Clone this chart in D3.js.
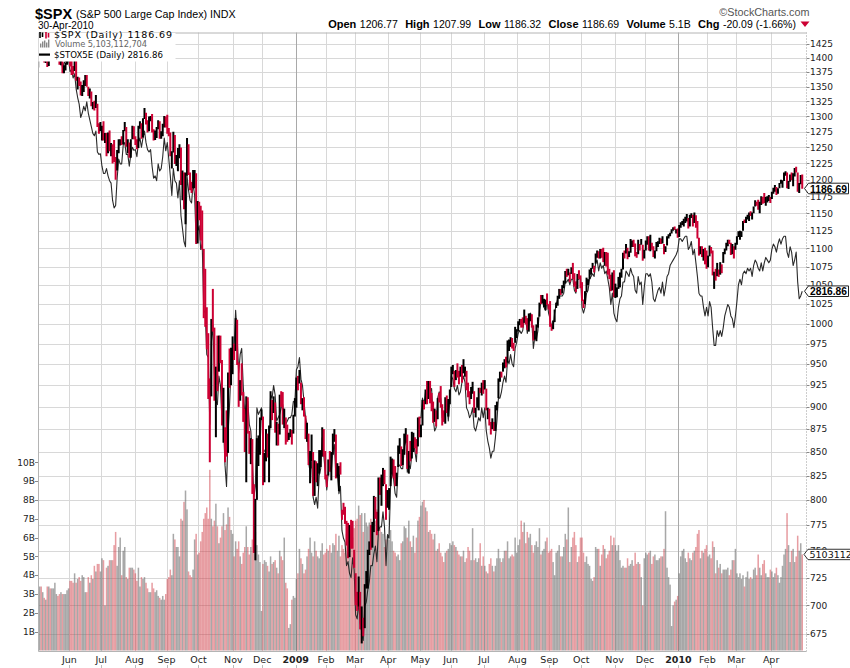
<!DOCTYPE html>
<html>
<head>
<meta charset="utf-8">
<script src="https://cdn.jsdelivr.net/npm/d3@7"></script>
<style>
body{margin:0;background:#fff;}
svg{display:block;font-family:"Liberation Sans",Arial,sans-serif;}
</style>
</head>
<body>
<svg id="chart" width="850" height="668"></svg>
<script>
// one line per month, May 2008 .. Apr 2010
const spxHigh = [
 1410,1422,1415,1421,1419,1404,1398,1404,1410,1420,1424,1427,1440,1426,1414,1406,1394,1387,1392,1406,1406,
 1401,1396,1386,1405,1404,1367,1366,1359,1353,1361,1370,1370,1350,1347,1342,1324,1326,1336,1321,1289,1291,
 1285,1292,1273,1273,1274,1277,1257,1255,1262,1235,1246,1263,1263,1268,1278,1291,1283,1263,1258,1263,1285,1284,
 1268,1263,1285,1292,1289,1297,1314,1306,1294,1300,1301,1304,1279,1277,1283,1294,1292,1276,1288,1301,1300,
 1303,1281,1274,1244,1275,1270,1238,1249,1255,1250,1214,1211,1211,1265,1255,1211,1197,1215,1215,1210,1168,
 1167,1161,1154,1099,1072,1021,988,933,1006,1045,995,947,985,985,985,955,922,877,896,940,969,970,984,
 975,1007,1005,952,931,951,917,898,912,911,873,865,864,816,801,865,868,888,897,
 889,849,875,870,879,918,908,912,905,883,881,914,918,917,898,888,880,871,875,874,891,910,
 934,936,943,928,910,911,890,882,870,851,869,850,841,840,838,852,852,877,875,851,
 826,842,851,850,870,875,869,838,835,839,790,797,793,779,777,775,780,779,751,
 729,712,726,712,699,689,719,731,751,759,775,778,804,803,788,823,823,826,833,831,816,810,
 812,845,843,842,835,828,857,865,856,853,870,876,869,851,862,872,871,866,864,888,889,
 880,908,907,920,930,930,930,916,906,898,896,910,916,924,903,896,911,913,909,920,
 947,949,942,943,951,942,947,949,956,947,942,928,918,923,929,918,899,911,922,922,928,931,
 931,921,899,898,883,887,883,902,906,933,941,941,952,956,959,979,980,983,982,976,996,993,
 1003,1006,1006,1008,1018,1010,1007,1013,1013,1012,998,991,999,1008,1027,1037,1037,1032,1031,1039,1025,
 1029,1000,1004,1018,1027,1036,1045,1045,1050,1056,1069,1072,1072,1067,1074,1080,1066,1055,1065,1070,1063,
 1054,1031,1042,1060,1058,1071,1073,1080,1076,1093,1097,1096,1099,1099,1101,1095,1095,1094,1072,1064,1067,1070,
 1052,1047,1061,1067,1072,1094,1097,1106,1101,1096,1113,1111,1112,1107,1095,1112,1106,1113,1105,1098,
 1111,1117,1117,1119,1108,1103,1097,1109,1110,1115,1114,1117,1106,1103,1117,1120,1122,1127,1130,1131,1127,1128,
 1133,1137,1139,1142,1145,1149,1143,1148,1150,1148,1151,1147,1139,1115,1103,1103,1099,1101,1097,
 1090,1104,1102,1097,1068,1072,1080,1071,1081,1078,1095,1100,1108,1112,1112,1108,1106,1103,1108,
 1117,1124,1125,1124,1139,1141,1145,1148,1151,1153,1151,1160,1169,1167,1170,1167,1175,1174,1180,1174,1175,1177,1174,
 1182,1188,1192,1189,1187,1195,1200,1199,1211,1213,1211,1198,1208,1211,1210,1218,1220,1211,1195,1207,1207.99
];
const spxLow = [
 1383,1406,1404,1397,1392,1391,1384,1386,1396,1402,1405,1414,1419,1409,1388,1387,1373,1373,1378,1388,1396,
 1385,1370,1371,1377,1360,1345,1351,1335,1334,1341,1351,1350,1334,1330,1317,1312,1310,1314,1283,1272,1276,
 1261,1261,1257,1236,1241,1244,1236,1225,1227,1200,1214,1241,1253,1254,1255,1276,1251,1241,1234,1234,1263,1263,
 1254,1247,1249,1280,1264,1266,1296,1287,1274,1276,1292,1274,1261,1262,1265,1279,1264,1264,1268,1282,1282,
 1272,1268,1236,1217,1242,1224,1221,1213,1233,1192,1169,1156,1134,1206,1207,1184,1180,1187,1187,1106,1107,
 1140,1111,1098,1007,996,968,909,839,912,990,907,866,918,941,951,879,860,839,845,849,922,925,938,
 955,966,949,900,907,913,883,850,818,870,848,837,806,748,741,800,835,847,885,
 815,818,840,844,818,876,885,893,871,857,857,869,900,880,876,858,861,863,866,858,870,889,
 899,919,927,903,896,889,864,861,836,817,840,804,804,818,814,827,834,845,845,821,
 813,825,829,820,847,861,822,823,809,826,780,785,776,755,743,744,752,752,734,
 700,695,699,679,667,673,680,715,715,746,751,753,768,781,765,769,805,794,814,816,780,792,
 790,814,826,822,814,814,834,848,835,836,847,860,832,827,840,843,850,854,848,856,866,
 866,879,897,903,903,909,904,895,882,883,878,886,905,899,879,883,881,893,889,903,
 923,938,923,931,934,926,935,928,939,935,919,911,903,909,915,893,888,899,896,916,913,915,
 920,896,886,879,869,875,873,873,896,910,929,934,941,945,946,952,966,971,969,966,976,982,
 990,998,995,995,1001,999,992,990,1003,995,979,980,978,995,1009,1025,1026,1021,1017,1024,1018,
 996,991,993,1002,1020,1023,1032,1037,1039,1046,1052,1061,1063,1054,1065,1058,1048,1041,1045,1058,1046,
 1029,1020,1025,1041,1050,1058,1064,1072,1067,1079,1087,1086,1086,1087,1081,1076,1075,1064,1058,1042,1043,1034,
 1033,1034,1045,1047,1060,1071,1086,1093,1085,1088,1094,1102,1102,1089,1087,1092,1097,1105,1083,1086,
 1097,1105,1097,1096,1098,1088,1086,1096,1102,1106,1106,1107,1092,1095,1104,1114,1117,1121,1125,1126,1121,1115,
 1116,1129,1133,1131,1136,1138,1128,1131,1143,1131,1136,1129,1114,1090,1092,1088,1083,1078,1072,
 1074,1089,1093,1063,1045,1056,1062,1061,1064,1066,1080,1092,1097,1103,1106,1091,1092,1086,1098,
 1105,1116,1112,1116,1125,1136,1136,1141,1139,1146,1141,1150,1160,1161,1155,1150,1162,1164,1165,1161,1166,1168,1165,
 1171,1179,1182,1177,1179,1187,1194,1188,1198,1206,1187,1186,1197,1199,1190,1205,1211,1182,1180,1193,1186.32
];
const spxClose = [
 1409.3,1413.9,1407.5,1418.3,1392.6,1397.7,1388.3,1403.6,1403.0,1408.7,1423.6,1425.4,1426.6,1413.4,1390.7,1394.4,1375.9,1385.4,1390.8,1398.3,1400.4,
 1385.7,1378.0,1377.2,1404.1,1360.7,1361.8,1358.4,1335.5,1339.9,1360.0,1360.1,1350.9,1337.8,1342.8,1317.9,1318.0,1314.3,1321.9,1283.2,1278.4,1280.0,
 1284.9,1261.5,1262.9,1252.3,1273.7,1244.7,1253.4,1239.5,1228.3,1214.9,1245.4,1260.3,1260.7,1260.0,1277.0,1282.2,1252.5,1257.8,1234.4,1263.2,1284.3,1267.4,
 1260.3,1249.0,1284.9,1289.2,1266.1,1296.3,1305.3,1289.6,1285.8,1292.9,1298.2,1278.6,1266.7,1274.5,1277.7,1292.2,1266.8,1271.5,1281.7,1300.7,1282.8,
 1277.6,1274.9,1236.8,1242.3,1267.8,1224.5,1232.0,1249.0,1251.7,1192.7,1213.6,1156.4,1206.5,1255.1,1207.1,1188.2,1185.9,1209.2,1213.3,1106.4,1166.4,
 1161.1,1114.3,1099.2,1056.9,996.2,984.9,909.9,899.2,1003.4,998.0,907.8,946.4,940.6,985.4,955.1,896.8,908.1,876.8,848.9,940.5,930.1,954.1,968.8,
 966.3,1005.8,952.8,904.9,930.9,919.2,898.9,852.3,911.3,873.3,850.8,859.1,806.6,752.4,800.0,851.8,857.4,887.7,896.2,
 816.2,848.8,870.7,845.2,876.1,909.7,888.7,899.2,873.6,879.7,868.6,913.2,904.4,885.3,887.9,871.6,863.2,868.2,872.8,869.4,890.6,903.3,
 931.8,927.5,934.7,906.7,909.7,890.4,870.3,871.8,842.6,843.7,850.1,805.2,840.2,827.5,832.0,836.6,845.7,874.1,845.1,825.9,
 825.4,838.5,832.2,845.9,868.6,870.0,827.2,833.7,835.2,826.8,789.2,788.4,778.9,770.1,743.3,773.1,764.9,752.8,735.1,
 700.8,696.3,712.9,682.6,683.4,676.5,719.6,721.4,750.7,756.6,753.9,778.1,794.4,784.0,768.5,822.9,806.1,813.9,832.9,815.9,787.5,797.9,
 811.1,834.4,842.5,835.5,815.6,825.2,856.6,858.7,841.5,852.1,865.3,869.6,832.4,850.1,843.6,851.9,866.2,857.5,855.2,873.6,872.8,
 877.5,907.2,903.8,919.5,907.4,929.2,909.2,908.4,883.9,893.1,882.9,909.7,908.1,903.5,888.3,887.0,910.3,893.1,906.8,919.1,
 942.9,944.7,931.8,942.5,940.1,939.1,942.4,939.2,944.9,946.2,923.7,911.9,910.7,918.4,921.2,893.0,895.1,900.9,920.3,918.9,927.2,919.3,
 923.3,896.4,898.7,881.0,879.6,882.7,879.1,901.1,905.8,932.7,940.7,940.4,951.0,954.6,954.1,976.3,979.3,982.2,979.6,975.2,986.8,987.5,
 1002.6,1005.7,1002.7,997.1,1010.5,1007.1,994.4,1005.8,1012.7,1004.1,979.7,989.7,996.5,1007.4,1026.1,1025.6,1028.0,1028.1,1030.9,1028.9,1020.6,
 998.0,994.8,1003.2,1016.4,1025.4,1033.4,1044.1,1042.7,1049.3,1052.6,1068.8,1065.5,1068.3,1064.7,1071.7,1060.9,1050.8,1044.4,1062.9,1060.6,1057.1,
 1029.9,1025.2,1040.5,1054.7,1057.6,1065.5,1071.5,1076.2,1073.2,1092.0,1096.6,1087.7,1097.9,1091.1,1081.4,1092.9,1079.6,1066.9,1063.4,1042.6,1066.1,1036.2,
 1042.9,1045.4,1046.5,1066.6,1069.3,1093.1,1093.0,1098.5,1087.2,1093.5,1109.3,1110.3,1109.8,1094.9,1091.4,1106.2,1105.7,1110.6,1091.5,1095.6,
 1108.9,1109.2,1099.9,1105.9,1103.3,1091.9,1095.9,1102.4,1106.4,1114.1,1107.9,1109.2,1096.1,1102.5,1114.1,1118.0,1120.6,1126.5,1127.8,1126.2,1126.4,1115.1,
 1132.9,1136.5,1137.1,1141.7,1145.0,1147.0,1136.2,1145.7,1148.5,1136.0,1150.2,1138.0,1116.5,1091.8,1096.8,1092.2,1097.5,1084.5,1073.9,
 1089.2,1103.3,1097.3,1063.1,1066.2,1056.7,1070.5,1068.1,1078.5,1075.5,1094.9,1099.5,1106.8,1109.2,1108.0,1094.6,1105.2,1102.9,1104.5,
 1115.7,1118.3,1118.8,1123.0,1138.7,1138.5,1140.5,1145.6,1150.2,1150.0,1150.5,1159.5,1166.2,1165.8,1159.9,1165.8,1174.2,1167.7,1165.7,1166.6,1173.2,1173.3,1169.4,
 1178.1,1187.4,1189.4,1182.4,1186.4,1194.4,1196.5,1197.3,1210.7,1211.7,1192.1,1197.5,1207.2,1205.9,1208.7,1217.3,1212.1,1183.7,1191.4,1206.78,1186.69
];
// volume, billions of shares
const volume = [
 3.3,3.4,3.4,3.1,2.8,2.7,3.4,3.4,3.3,3.3,3.3,3.6,3.0,2.9,3.0,3.1,3.0,3.0,3.0,3.2,3.3,
 3.7,3.7,3.6,4.1,3.6,3.8,3.9,3.7,4.0,3.9,3.1,3.1,3.9,3.6,4.0,3.8,4.5,4.2,4.6,4.6,4.2,
 4.9,4.8,2.4,4.4,4.5,4.8,4.8,4.8,5.6,6.3,4.5,5.5,6.0,4.0,5.3,5.5,3.9,3.8,4.4,4.4,4.4,4.3,
 4.1,3.7,4.4,3.4,3.9,3.8,3.9,3.6,3.3,3.1,3.1,3.6,3.3,3.1,3.2,2.9,2.8,2.7,2.9,2.7,3.0,
 3.8,3.9,4.3,4.0,6.2,5.9,5.5,5.5,5.0,7.0,6.9,7.9,8.5,7.5,4.2,4.0,3.9,4.3,5.9,6.2,5.1,
 5.2,5.8,6.3,7.0,7.3,7.6,7.0,9.6,7.0,6.6,6.9,7.8,6.6,5.7,6.0,6.6,7.3,6.4,6.7,7.6,7.1,6.4,6.2,
 5.0,5.8,5.4,5.8,5.0,4.6,5.2,5.5,6.6,5.5,5.1,5.5,5.9,6.7,6.3,5.6,5.1,4.7,2.1,
 4.6,4.8,4.7,4.5,4.2,5.0,4.6,4.7,4.8,4.4,4.1,5.3,5.0,4.8,6.0,3.6,3.3,1.2,1.4,2.7,2.9,2.8,
 3.8,4.1,5.4,4.9,4.6,4.1,4.3,5.0,5.4,6.0,5.2,5.0,5.8,5.3,5.0,4.9,5.3,5.7,5.1,5.2,
 5.4,5.3,5.6,5.2,5.7,5.6,6.2,5.3,6.1,5.0,5.6,5.4,5.2,6.2,5.6,6.4,6.2,6.0,6.5,
 6.9,7.0,7.7,7.2,7.3,6.3,7.3,6.8,6.6,6.8,7.0,6.2,6.3,6.9,7.5,6.2,6.5,6.3,6.2,5.5,5.9,6.1,
 5.9,6.4,5.8,5.3,5.2,5.0,5.1,4.8,5.7,5.8,6.6,6.5,6.0,6.9,5.8,5.5,6.1,5.2,6.0,6.9,7.1,
 7.7,7.9,8.0,7.6,7.4,6.3,6.4,6.2,5.9,6.2,5.3,5.4,5.7,5.2,5.0,4.7,5.2,5.3,5.4,5.7,
 5.6,5.8,5.6,5.5,5.3,5.1,5.0,5.0,5.3,4.7,4.9,5.5,5.3,4.8,6.5,4.8,4.9,4.7,4.9,5.7,4.5,5.0,
 4.5,4.2,4.1,4.6,4.9,4.5,4.2,4.5,4.9,5.4,4.9,4.7,4.9,5.3,5.3,5.8,4.9,5.0,5.1,5.0,6.0,5.2,
 5.6,5.9,6.9,6.3,6.8,5.7,6.3,6.0,6.2,5.6,5.2,5.6,5.8,5.5,6.5,5.1,5.3,5.4,5.8,6.0,5.2,
 5.3,5.4,4.7,4.0,5.2,5.3,5.6,5.0,5.0,5.5,6.2,5.9,7.6,4.7,5.5,6.0,6.3,5.6,4.7,5.0,6.0,
 6.0,5.2,4.7,5.0,4.6,4.5,3.8,3.7,3.9,5.5,5.4,5.4,4.5,5.1,5.6,5.4,4.9,5.1,5.3,6.1,5.6,6.0,
 5.6,5.3,5.6,4.8,4.4,4.5,4.4,4.4,4.9,4.5,4.6,4.8,4.5,5.2,4.6,4.7,4.6,3.9,2.4,4.9,
 5.2,5.1,5.2,5.3,4.6,5.0,5.1,4.8,4.8,4.9,5.0,5.0,5.4,7.4,4.4,3.9,3.5,1.3,2.4,2.6,2.7,2.9,
 4.1,5.0,5.3,5.4,4.9,4.7,5.2,4.9,4.8,5.2,5.3,5.5,6.2,6.4,4.9,5.3,5.2,5.4,5.6,
 5.0,5.1,4.9,5.8,5.5,4.1,4.8,4.4,4.6,4.1,4.3,4.3,4.3,4.4,4.0,4.3,4.8,4.8,5.4,
 4.1,3.9,4.1,3.8,4.0,3.4,3.9,4.2,3.8,3.9,3.8,4.3,4.4,4.0,5.1,4.4,4.0,4.6,4.8,4.1,3.9,3.9,4.3,
 4.2,3.9,4.1,4.4,4.0,3.6,3.9,4.5,5.1,5.4,7.3,5.6,4.7,5.3,5.4,4.7,5.0,6.1,5.3,5.7,5.103112704
];
// $STOX5E closes on the same dates
const stoxx = [
 3810,3845,3825,3850,3810,3780,3770,3800,3795,3830,3860,3870,3880,3850,3800,3790,3740,3760,3770,3785,3777,
 3720,3730,3690,3710,3640,3600,3570,3510,3530,3560,3540,3580,3530,3500,3470,3440,3430,3450,3360,3350,3352,
 3300,3270,3270,3290,3260,3240,3230,3160,3130,3140,3250,3330,3310,3310,3390,3400,3350,3350,3300,3350,3380,3367,
 3370,3340,3400,3420,3380,3420,3450,3400,3370,3360,3370,3300,3250,3260,3240,3310,3280,3290,3340,3420,3365,
 3400,3330,3260,3180,3290,3240,3230,3170,3240,3100,3050,3000,2980,3260,3200,3160,3150,3230,3180,3000,3040,
 3060,2970,2990,2750,2740,2600,2590,2380,2640,2700,2540,2450,2440,2530,2500,2390,2380,2260,2200,2350,2440,2560,2590,
 2620,2750,2660,2540,2600,2620,2500,2410,2440,2450,2380,2360,2280,2170,2200,2430,2410,2420,2430,
 2310,2300,2300,2320,2270,2470,2460,2500,2470,2390,2400,2410,2430,2440,2400,2380,2390,2400,2400,2410,2450,2447,
 2550,2560,2590,2520,2500,2450,2400,2380,2270,2240,2270,2170,2150,2170,2140,2230,2250,2340,2290,2240,
 2190,2240,2260,2240,2300,2320,2230,2230,2180,2200,2080,2060,2050,1990,2000,1970,1960,2010,1980,
 1870,1860,1900,1850,1830,1810,1890,1900,1930,1950,1990,1990,2020,2040,2000,2080,2090,2090,2130,2090,1990,2070,
 2060,2200,2240,2220,2180,2170,2260,2260,2250,2250,2310,2340,2240,2260,2250,2290,2340,2300,2270,2360,2400,
 2400,2460,2440,2480,2470,2510,2480,2490,2400,2360,2370,2460,2480,2460,2400,2400,2420,2450,2390,2450,
 2530,2520,2490,2480,2500,2470,2480,2510,2530,2510,2430,2420,2400,2410,2430,2370,2360,2380,2400,2390,2430,2400,
 2430,2360,2330,2310,2280,2300,2300,2340,2390,2460,2460,2480,2510,2530,2510,2580,2570,2600,2570,2560,2620,2640,
 2670,2680,2670,2680,2720,2720,2670,2700,2740,2710,2620,2660,2650,2680,2750,2780,2780,2760,2750,2790,2740,
 2720,2690,2690,2740,2770,2790,2800,2800,2800,2810,2850,2850,2860,2840,2860,2860,2820,2810,2860,2860,2870,
 2760,2740,2760,2810,2820,2860,2870,2880,2870,2920,2930,2890,2920,2900,2910,2880,2890,2860,2830,2770,2810,2740,
 2720,2710,2760,2790,2800,2850,2850,2890,2880,2870,2900,2880,2870,2820,2810,2870,2840,2850,2770,2830,
 2880,2880,2870,2880,2850,2790,2780,2800,2820,2830,2810,2850,2800,2830,2870,2880,2910,2920,2930,2940,2950,2966,
 3010,3010,3000,3010,3020,3020,2970,2980,3000,2950,2970,2920,2870,2810,2800,2800,2760,2730,2760,
 2730,2780,2760,2690,2630,2630,2680,2660,2680,2660,2690,2730,2750,2770,2760,2730,2720,2690,2730,
 2780,2840,2860,2840,2880,2890,2880,2900,2890,2900,2870,2910,2930,2920,2900,2890,2920,2890,2920,2940,2930,2920,2930,
 2970,2990,2980,2960,2990,3010,2990,3010,3020,3020,2960,2940,2980,2960,2910,2930,2960,2850,2790,2800,2816.86
];
const monthLabels = ["May","Jun","Jul","Aug","Sep","Oct","Nov","Dec","2009","Feb","Mar","Apr","May","Jun",
  "Jul","Aug","Sep","Oct","Nov","Dec","2010","Feb","Mar","Apr"];
const monthDays = [21,21,22,21,21,23,19,22,20,19,22,21,20,22,22,21,21,22,20,22,19,19,23,21];
const priceTicks = d3.range(675, 1426, 25);
const volTicks = [1,2,3,4,5,6,7,8,9,10];
const lastOpen = 1206.77;

const svg = d3.select("#chart");
const N = spxClose.length;
const box = {l: 38, r: 806, t: 32.5, b: 651};

const x = d3.scaleBand().domain(d3.range(N)).range([37.4, 803]);
const bw = x.bandwidth();
const xc = i => x(i) + bw / 2;
const y = d3.scaleLog().domain([675, 1425]).range([634, 44]);
const yv = d3.scaleLinear().domain([0, 10]).range([650.5, 462.3]);
const stoxFactor = spxClose[0] / stoxx[0];   // overlay starts on the SPX close
const down = spxClose.map((c, i) => i > 0 && c < spxClose[i - 1]);
const RED = "#cc0033";
const AX = '"DejaVu Sans",Verdana,sans-serif';

let starts = [], acc = 0;
monthDays.forEach(n => { starts.push(acc); acc += n; });
const months = starts.map((s, k) => ({s: s, lab: monthLabels[k]})).slice(1);
const isYear = d => /^\d/.test(d.lab);

svg.append("defs").append("clipPath").attr("id", "plotclip")
  .append("rect").attr("x", box.l).attr("y", box.t)
  .attr("width", box.r - box.l).attr("height", box.b - box.t);

// grid
const grid = svg.append("g");
grid.selectAll(".hg").data(priceTicks).join("line").attr("class", "hg")
  .attr("x1", box.l).attr("x2", box.r)
  .attr("y1", d => Math.round(y(d)) + 0.5).attr("y2", d => Math.round(y(d)) + 0.5)
  .attr("stroke", "#d8d8d8");
grid.selectAll(".vg").data(months).join("line").attr("class", "vg")
  .attr("x1", d => Math.round(x(d.s)) + 0.5).attr("x2", d => Math.round(x(d.s)) + 0.5)
  .attr("y1", box.t).attr("y2", box.b)
  .attr("stroke", d => isYear(d) ? "#a9a9a9" : "#d8d8d8");

// volume
svg.append("g").attr("clip-path", "url(#plotclip)")
  .selectAll("rect").data(volume).join("rect")
  .attr("x", (d, i) => x(i)).attr("width", bw)
  .attr("y", d => yv(d)).attr("height", d => yv(0) - yv(d))
  .attr("fill", (d, i) => down[i] ? "rgb(205,50,60)" : "rgb(110,110,110)")
  .attr("fill-opacity", (d, i) => down[i] ? 0.48 : 0.6);

// STOXX overlay
const stoxLine = d3.line().x((d, i) => xc(i)).y(d => y(d * stoxFactor));
svg.append("path").datum(stoxx).attr("clip-path", "url(#plotclip)")
  .attr("d", stoxLine).attr("fill", "none")
  .attr("stroke", "#2a2a2a").attr("stroke-width", 1.1).attr("stroke-linejoin", "round");

// SPX high-low bars
svg.append("g").attr("clip-path", "url(#plotclip)")
  .selectAll("line").data(spxClose).join("line")
  .attr("x1", (d, i) => xc(i)).attr("x2", (d, i) => xc(i))
  .attr("y1", (d, i) => y(spxHigh[i])).attr("y2", (d, i) => y(spxLow[i]))
  .attr("stroke", (d, i) => down[i] ? RED : "#000").attr("stroke-width", 2);

// frame
svg.append("path")
  .attr("d", `M${box.r},${box.t + 0.5}H${box.l + 0.5}V${box.b + 0.5}H${box.r}`)
  .attr("fill", "none").attr("stroke", "#b4b4b4");
svg.append("line").attr("x1", box.r + 0.5).attr("x2", box.r + 0.5)
  .attr("y1", box.t).attr("y2", box.b + 0.5)
  .attr("stroke", "#9a9a9a").attr("stroke-dasharray", "1,2");

// right price axis
const ra = svg.append("g");
ra.selectAll("line").data(priceTicks).join("line")
  .attr("x1", box.r + 0.5).attr("x2", box.r + 3.5)
  .attr("y1", d => Math.round(y(d)) + 0.5).attr("y2", d => Math.round(y(d)) + 0.5)
  .attr("stroke", "#888");
ra.selectAll("text").data(priceTicks).join("text")
  .attr("x", 810).attr("y", d => y(d)).attr("dy", "0.36em")
  .style("font-family", AX).style("font-size", "9px").attr("fill", "#222")
  .text(d => d);

// left volume axis
const la = svg.append("g");
la.selectAll("line").data(volTicks).join("line")
  .attr("x1", box.l - 3).attr("x2", box.l)
  .attr("y1", d => Math.round(yv(d)) + 0.5).attr("y2", d => Math.round(yv(d)) + 0.5)
  .attr("stroke", "#888");
la.selectAll("text").data(volTicks).join("text")
  .attr("x", 35).attr("y", d => yv(d)).attr("dy", "0.36em").attr("text-anchor", "end")
  .style("font-family", AX).style("font-size", "9px").attr("fill", "#222")
  .text(d => d + "B");

// bottom month labels
const ba = svg.append("g");
ba.selectAll("line").data(months).join("line")
  .attr("x1", d => Math.round(x(d.s)) + 0.5).attr("x2", d => Math.round(x(d.s)) + 0.5)
  .attr("y1", 665).attr("y2", 668).attr("stroke", "#bbb");
ba.selectAll("text").data(months).join("text")
  .attr("x", d => x(d.s)).attr("y", 663).attr("text-anchor", "middle")
  .style("font-family", AX).style("font-size", "9.5px")
  .style("font-weight", d => isYear(d) ? "bold" : "normal").attr("fill", "#222")
  .text(d => d.lab);

// value tags on the right
function tag(yy, txt) {
  const g = svg.append("g");
  g.append("path")
    .attr("d", `M804.5,${yy}L808.5,${yy - 5.3}H848.5V${yy + 5.3}H808.5Z`)
    .attr("fill", "#fff").attr("stroke", "#222");
  g.append("text").attr("x", 810).attr("y", yy).attr("dy", "0.37em").text(txt)
    .style("font-weight", "bold").style("font-size", "11px").attr("fill", "#000")
    .attr("textLength", 37).attr("lengthAdjust", "spacingAndGlyphs");
}
const lastC = spxClose[N - 1], prevC = spxClose[N - 2], lastV = volume[N - 1];
tag(y(lastC), lastC.toFixed(2));
tag(y(stoxx[N - 1] * stoxFactor), stoxx[N - 1].toFixed(2));
// volume tag runs past the right edge, as in the original
svg.append("path")
  .attr("d", `M804,${yv(lastV)}L808,${yv(lastV) - 5.2}H860V${yv(lastV) + 5.2}H808Z`)
  .attr("fill", "#fff").attr("stroke", "#333");
svg.append("text").attr("x", 809.5).attr("y", yv(lastV)).attr("dy", "0.36em")
  .style("font-family", AX).style("font-size", "9.5px").attr("fill", "#111")
  .text(Math.round(lastV * 1e9));

// legend
const lg = svg.append("g");
lg.append("rect").attr("x", 38.5).attr("y", 33).attr("width", 137).attr("height", 28.5).attr("fill", "#fff");
[[40, 31.5, 38, "#000"], [42.5, 32, 37, "#000"], [46, 31.5, 38.5, RED], [48.5, 32.5, 37.5, RED]].forEach(b => {
  lg.append("line").attr("x1", b[0]).attr("x2", b[0]).attr("y1", b[1] + 0.5).attr("y2", b[2])
    .attr("stroke", b[3]).attr("stroke-width", 1.6);
});
[[40, 4], [42, 6], [44, 7], [46, 5], [48, 8]].forEach(b => {
  lg.append("rect").attr("x", b[0]).attr("y", 47.5 - b[1]).attr("width", 1.4).attr("height", b[1]).attr("fill", "#888");
});
lg.append("rect").attr("x", 39).attr("y", 53.5).attr("width", 11).attr("height", 2.2).attr("fill", "#000");
lg.append("text").attr("x", 54).attr("y", 38.3)
  .style("font-family", AX).style("font-size", "9.5px").attr("fill", "#000")
  .attr("textLength", 118).attr("lengthAdjust", "spacing")
  .text("$SPX (Daily) " + lastC.toFixed(2));
lg.append("text").attr("x", 55).attr("y", 47.4)
  .style("font-family", AX).style("font-size", "8.3px").attr("fill", "#666")
  .attr("textLength", 92).attr("lengthAdjust", "spacing")
  .text("Volume " + d3.format(",")(Math.round(lastV * 1e9)));
lg.append("text").attr("x", 54).attr("y", 57.8)
  .style("font-family", AX).style("font-size", "8.6px").attr("fill", "#000")
  .attr("textLength", 109).attr("lengthAdjust", "spacing")
  .text("$STOX5E (Daily) " + stoxx[N - 1].toFixed(2));

// header
svg.append("text").attr("x", 35).attr("y", 18.5)
  .style("font-weight", "bold").style("font-size", "14.5px").attr("fill", "#000").text("$SPX");
svg.append("text").attr("x", 76).attr("y", 18)
  .style("font-size", "10.7px").attr("fill", "#000").text("(S&P 500 Large Cap Index) INDX");
svg.append("text").attr("x", 38).attr("y", 28.5)
  .style("font-size", "10px").attr("fill", "#000").text("30-Apr-2010");
svg.append("text").attr("x", 809.5).attr("y", 15.5).attr("text-anchor", "end")
  .style("font-size", "10.8px").attr("fill", "#555").text("\u00a9StockCharts.com");

// quote line, laid out left to right then shifted to end at the right edge
const chg = lastC - prevC;
const pieces = [
  ["Open", true], [lastOpen.toFixed(2), false],
  ["High", true], [spxHigh[N - 1].toFixed(2), false],
  ["Low", true], [spxLow[N - 1].toFixed(2), false],
  ["Close", true], [lastC.toFixed(2), false],
  ["Volume", true], [lastV.toFixed(1) + "B", false],
  ["Chg", true], [chg.toFixed(2) + " (" + (chg / prevC * 100).toFixed(2) + "%)", false]
];
const quote = svg.append("g");
let hx = 0;
pieces.forEach(p => {
  const t = quote.append("text").attr("x", hx).attr("y", 28).attr("fill", "#000")
    .style("font-weight", p[1] ? "bold" : "normal").style("font-size", p[1] ? "11px" : "10.5px")
    .text(p[0]);
  hx += t.node().getComputedTextLength() + (p[1] ? 3.5 : 7.4);
});
quote.append("path").attr("d", `M${hx - 2.8},21.5h9l-4.5,5.5z`).attr("fill", RED);
quote.attr("transform", `translate(${809.5 - (hx - 2.8 + 9)},0)`);
</script>
</body>
</html>
